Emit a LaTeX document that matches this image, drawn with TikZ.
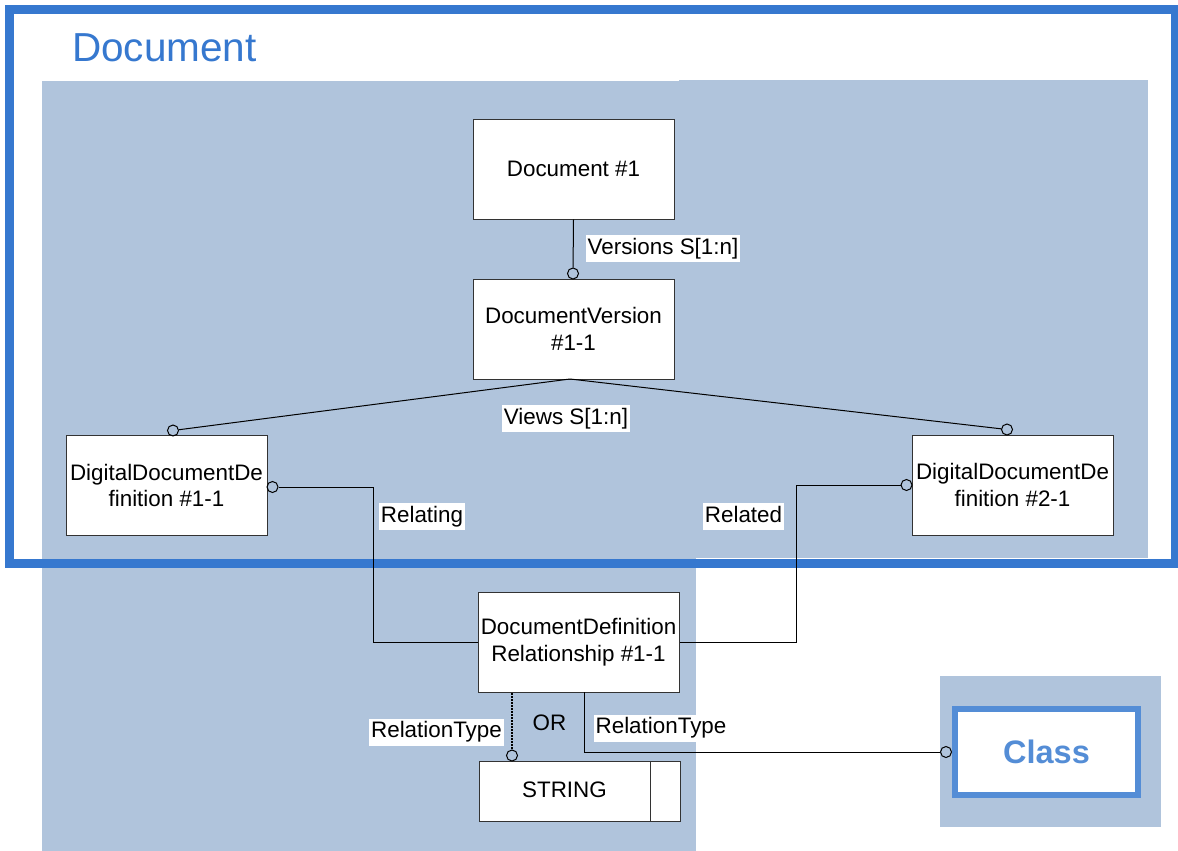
\documentclass[tikz,border=0pt]{standalone}
\usepackage{fontspec}
\setmainfont{Liberation Sans}
\definecolor{bgshade}{HTML}{B0C4DC}
\definecolor{frameblue}{HTML}{3678CF}
\definecolor{classblue}{HTML}{548DD6}
\definecolor{boxline}{HTML}{333333}
\begin{document}
\begin{tikzpicture}[x=1pt,y=-1pt,
  entity/.style={draw=boxline,line width=1pt,fill=white,minimum width=201pt,minimum height=100pt,inner sep=0pt,align=center,font=\fontsize{22.4}{26.5}\selectfont},
  lbl/.style={fill=white,inner xsep=2pt,inner ysep=3pt,text height=16pt,text depth=5pt,font=\fontsize{22.4}{26.5}\selectfont},
  circ/.style={circle,draw=black,line width=1pt,minimum size=11pt,inner sep=0pt},
  conn/.style={draw=black,line width=1pt}]
\useasboundingbox (0,0) rectangle (1178,851);
% shaded regions
\fill[bgshade] (42,81.5) rectangle (679,558);
\fill[bgshade] (679,80) rectangle (1147.5,558);
\fill[bgshade] (42,557) rectangle (695.5,851);
\fill[bgshade] (939.5,676) rectangle (1161,827);
% outer blue frame
\draw[frameblue,line width=9pt] (9.5,9.5) rectangle (1175.5,563.5);
\node[anchor=base west,text=frameblue,font=\fontsize{40.5}{48}\selectfont,inner sep=0pt] (title) at (72,62) {Document};
% entities
\node[entity] (d1) at (573.5,169) {Document \#1};
\node[entity] (dv) at (573.5,329) {DocumentVersion\\\#1-1};
\node[entity] (dd1) at (166.5,485.5) {DigitalDocumentDe\\finition \#1-1};
\node[entity] (dd2) at (1012.5,485) {DigitalDocumentDe\\finition \#2-1};
\node[entity] (ddr) at (578.5,642) {DocumentDefinition\\Relationship \#1-1};
\node[entity,minimum height=60pt] (str) at (579.5,791) {};
\node[font=\fontsize{22.4}{26.5}\selectfont] (strt) at (564.5,790) {STRING};
\draw[boxline,line width=1pt] (650,761) -- (650,821);
% class
\node[draw=classblue,line width=6pt,fill=white,minimum width=183pt,minimum height=86pt,inner sep=0pt,text=classblue,font=\bfseries\fontsize{32.5}{38}\selectfont] (cls) at (1046.5,752) {Class};
% circles
\node[circ] (c1) at (573,273.5) {};
\node[circ] (c2) at (173,430.5) {};
\node[circ] (c3) at (1007,429.5) {};
\node[circ] (c4) at (272.5,487) {};
\node[circ] (c5) at (906.5,485) {};
\node[circ] (c6) at (512,755.5) {};
\node[circ] (c7) at (946,752) {};
\coordinate (dvb) at (570,379);
% connectors
\draw[conn] (d1.south) -- (c1);
\draw[conn] (dvb) -- (c2);
\draw[conn] (dvb) -- (c3);
\draw[conn] (c4) -- (373,487) |- (ddr.west);
\draw[conn] (c5) -- (796,485) |- (ddr.east);
\draw[conn,line width=1.5pt,dash pattern=on 2pt off 1pt] (512,693) -- (c6);
\draw[conn] (584.5,692) |- (c7);
% labels
\node[lbl] (l1) at (663,248.5) {Versions S[1:n]};
\node[lbl] (l2) at (566,418.5) {Views S[1:n]};
\node[lbl] (l3) at (422,516.5) {Relating};
\node[lbl] (l4) at (743.5,516.5) {Related};
\node[lbl] (l5) at (436.5,732) {RelationType};
\node[lbl] (l6) at (661,728) {RelationType};
\node[font=\fontsize{22.4}{26.5}\selectfont] (or) at (549.5,723) {OR};
\end{tikzpicture}
\end{document}
